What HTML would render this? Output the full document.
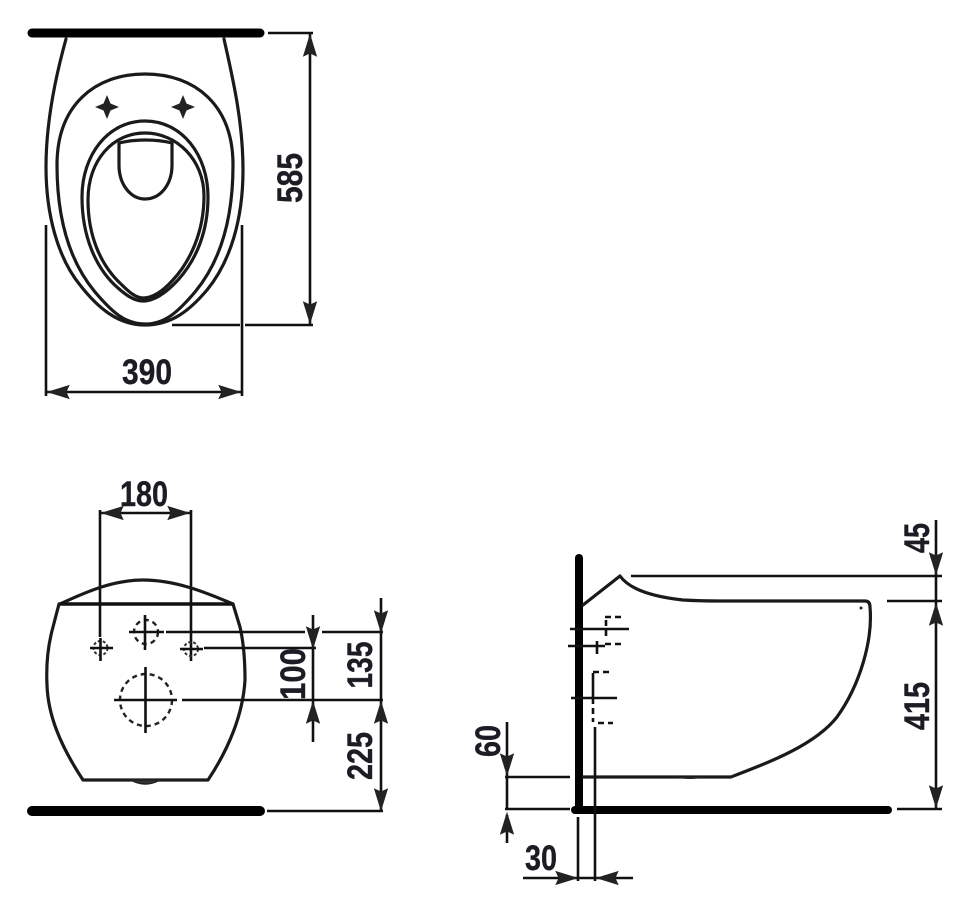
<!DOCTYPE html>
<html><head><meta charset="utf-8"><title>Diagram</title>
<style>
html,body{margin:0;padding:0;background:#fff}
svg{display:block}
text{font-family:"Liberation Sans",sans-serif;font-weight:bold;font-size:35px;fill:#1c1c24;stroke:#1c1c24;stroke-width:.4;text-anchor:middle}
.o{fill:none;stroke:#1a1a1a;stroke-width:3.2;stroke-linecap:round;stroke-linejoin:round}
.d{fill:none;stroke:#111;stroke-width:2.6}
.c{fill:none;stroke:#222;stroke-width:2.4;stroke-dasharray:5 4}
.b{stroke:#000;stroke-linecap:round}
</style></head><body>
<svg width="973" height="915" viewBox="0 0 973 915" xmlns="http://www.w3.org/2000/svg">
<defs>
<path id="a" d="M0 0L-6.500-21L0-18L6.500-21Z" fill="#222" stroke="#222" stroke-width=".8"/>
<path id="s" d="M0-12L3.500-3.500L12 0L3.500 3.500L0 12L-3.500 3.500L-12 0L-3.500-3.500Z" fill="#222"/>
</defs>

<!-- TOP VIEW -->
<line class="b" x1="32" y1="33" x2="260" y2="33" stroke-width="9"/>
<path class="o" d="M66 39C56 75 46 120 46 167C46 215 58 258 80 285C98 308 118 325 145 325C172 325 190 310 207 290C230 262 243 220 243 170C243 120 232 75 224 39"/>
<path class="o" d="M145 74C95 74 57 105 57 165C57 220 70 262 95 292C112 312 125 324 145 324C165 324 178 312 195 292C220 262 233 220 233 165C233 105 195 74 145 74Z"/>
<path class="o" stroke-width="2.4" d="M145 121C108 121 82 155 82 197C82 235 95 268 118 288C126 295 134 301 143 301C153 301 165 294 178 280C196 260 208 232 208 197C208 155 182 121 145 121Z"/>
<path class="o" d="M145 133C113 133 88 160 88 200C88 235 100 265 122 285C129 292 136 298 143 298C152 298 162 292 172 281C190 262 204 232 204 196C204 160 177 133 145 133Z"/>
<path class="o" stroke-width="2.400" d="M119 143C135 139 156 139 172 143L172 165C172 185 160 199 145 199C131 199 119 185 119 165Z"/>
<use href="#s" x="107" y="107"/>
<use href="#s" x="183" y="107"/>

<path class="d" d="M268 33H313M172 325H240M245 325H313M310 33V325M46 225V396M242 225V396M46 392H242"/>
<use href="#a" transform="translate(310,35) rotate(180)"/>
<use href="#a" transform="translate(310,323)"/>
<use href="#a" transform="translate(48,392) rotate(90)"/>
<use href="#a" transform="translate(240,392) rotate(-90)"/>
<text x="147" y="384" textLength="50" lengthAdjust="spacingAndGlyphs">390</text>
<text transform="translate(302,178) rotate(-90)" textLength="50" lengthAdjust="spacingAndGlyphs">585</text>

<!-- FRONT VIEW -->
<text x="144" y="506" textLength="48" lengthAdjust="spacingAndGlyphs">180</text>
<path class="d" d="M100 510V637M191 510V661M100 513H191"/>
<use href="#a" transform="translate(102,513) rotate(90)"/>
<use href="#a" transform="translate(189,513) rotate(-90)"/>

<path class="o" d="M60 604C90 590 115 580 143 580C175 580 205 592 233 604"/>
<line x1="59" y1="604" x2="233" y2="604" stroke="#111" stroke-width="3.6"/>
<path class="o" d="M59 604L53 627C48 645 46 665 47 685C48 715 60 745 83 780H208C228 750 243 715 245 680C245 655 243 640 240 627L233 604"/>
<path d="M131 780Q145 788 160 780Z" fill="#333" stroke="#222" stroke-width="1.5"/>

<circle class="c" cx="146" cy="632" r="12"/>
<path class="d" d="M129 632H164M145 615V650"/>
<circle class="c" cx="146" cy="700" r="26"/>
<path class="d" d="M114 700H177M145.500 667V733"/>
<circle cx="100.500" cy="648" r="7" fill="none" stroke="#333" stroke-width="2" stroke-dasharray="3 2"/>
<path class="d" d="M90 648H113M100.500 638V661"/>
<circle cx="191" cy="649" r="7" fill="none" stroke="#333" stroke-width="2" stroke-dasharray="3 2"/>
<path class="d" d="M180 649H203"/>

<path class="d" d="M166 632H305M322 632H383M204 648H316M182 700H383M267 811H383M313 615V742M381 598V812"/>
<use href="#a" transform="translate(313,648)"/>
<use href="#a" transform="translate(313,702) rotate(180)"/>
<use href="#a" transform="translate(381,632)"/>
<use href="#a" transform="translate(381,702) rotate(180)"/>
<use href="#a" transform="translate(381,810)"/>
<line class="b" x1="32" y1="811" x2="260" y2="811" stroke-width="10"/>
<text transform="translate(305,674) rotate(-90)" textLength="52" lengthAdjust="spacingAndGlyphs">100</text>
<text transform="translate(372,665) rotate(-90)" textLength="47" lengthAdjust="spacingAndGlyphs">135</text>
<text transform="translate(372,756) rotate(-90)" textLength="48" lengthAdjust="spacingAndGlyphs">225</text>

<!-- SIDE VIEW -->
<line x1="579" y1="558" x2="579" y2="812" stroke="#000" stroke-width="8"/>
<circle cx="579" cy="558" r="4" fill="#000"/>
<line x1="575" y1="810" x2="888" y2="810" class="b" stroke-width="8"/>
<path class="o" d="M583 605L620 576C630 590 655 597 683 600Q700 601 720 601L865 601Q870 601 870 607C873 640 860 685 837 717C815 745 770 762 731 777H583"/>
<path d="M675 777Q690 781 705 777Z" fill="#222"/>
<circle cx="861" cy="608" r="1.500" fill="#222"/>

<path class="d" d="M570 629H629M568 646H605M597 641V654M571 698H617M593 673V698"/>
<path class="d" stroke-dasharray="6 4" d="M606 620V638M605 617H622M605 644H622M593 698V722M593 672H613M598 723H613"/>

<path class="d" d="M631 576H942M887 601H942M897 809H942M936 520V808M507 722V777M505 777H570M505 809H570M507 777V809M507 815V843M523 878H633M578 817V881M595 727V881"/>
<use href="#a" transform="translate(936,574)"/>
<use href="#a" transform="translate(936,604) rotate(180)"/>
<use href="#a" transform="translate(936,807)"/>
<use href="#a" transform="translate(507,775)"/>
<use href="#a" transform="translate(507,813) rotate(180)"/>
<use href="#a" transform="translate(577,878) rotate(-90)"/>
<use href="#a" transform="translate(597,878) rotate(90)"/>
<text transform="translate(929,538) rotate(-90)" textLength="30" lengthAdjust="spacingAndGlyphs">45</text>
<text transform="translate(929,706) rotate(-90)" textLength="48" lengthAdjust="spacingAndGlyphs">415</text>
<text transform="translate(500,741) rotate(-90)" textLength="32" lengthAdjust="spacingAndGlyphs">60</text>
<text x="541" y="870" textLength="32" lengthAdjust="spacingAndGlyphs">30</text>
</svg>
</body></html>
